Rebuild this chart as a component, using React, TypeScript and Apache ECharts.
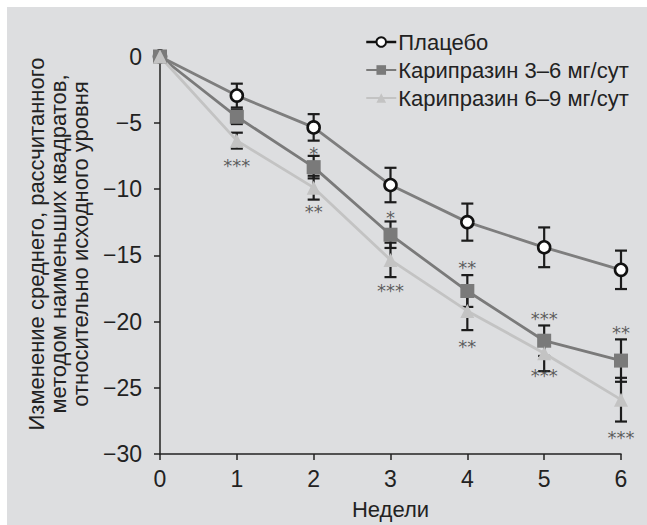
import React, { useEffect, useRef } from "react";
import * as echarts from "echarts";

const weeks = [0, 1, 2, 3, 4, 5, 6];
const xTicks = ["0", "1", "2", "3", "4", "5", "6"];
const seriesNames = ["Плацебо", "Карипразин 3–6 мг/сут", "Карипразин 6–9 мг/сут"];

const placebo = [0, -2.95, -5.35, -9.7, -12.5, -14.4, -16.1];
const placeboErr = [0, 0.9, 1.0, 1.3, 1.4, 1.5, 1.45];
const cari36 = [0, -4.55, -8.35, -13.45, -17.7, -21.45, -22.95];
const cari36Err = [0, 0.55, 0.85, 1.0, 1.2, 1.15, 1.6];
const cari69 = [0, -6.35, -9.9, -15.35, -19.2, -22.4, -25.9];
const cari69Err = [0, 0.6, 0.9, 1.3, 1.45, 1.35, 1.65];

// significance markers: week, position (value units), text
const starWeeks = [1, 2, 2, 3, 3, 4, 4, 5, 5, 6, 6];
const starValues = [-7.9, -7.0, -11.4, -11.85, -17.35, -15.65, -21.55, -19.5, -23.75, -20.55, -28.45];
const starTexts = ["***", "*", "**", "*", "***", "**", "**", "***", "***", "**", "***"];

const yAxisTitle = [
  "Изменение среднего, рассчитанного",
  "методом наименьших квадратов,",
  "относительно исходного уровня",
];
const xAxisTitle = "Недели";

const FONT = "'Liberation Sans', Arial, Helvetica, sans-serif";
const TEXT = "#222222";

function errorSeries(vals: number[], errs: number[], z: number) {
  return {
    type: "custom",
    z,
    silent: true,
    renderItem: (params: any, api: any) => {
      const x = api.value(0);
      const y = api.value(1);
      const e = api.value(2);
      if (!e) return null;
      const top = api.coord([x, y + e]);
      const bot = api.coord([x, y - e]);
      const w = 6;
      const st = { stroke: "#1c1c1c", lineWidth: 2.2 };
      return {
        type: "group",
        children: [
          { type: "line", shape: { x1: top[0], y1: top[1], x2: bot[0], y2: bot[1] }, style: st },
          { type: "line", shape: { x1: top[0] - w, y1: top[1], x2: top[0] + w, y2: top[1] }, style: st },
          { type: "line", shape: { x1: bot[0] - w, y1: bot[1], x2: bot[0] + w, y2: bot[1] }, style: st },
        ],
      };
    },
    data: weeks.map((w, i) => [w, vals[i], errs[i]]),
  };
}

export default function App() {
  const ref = useRef<HTMLDivElement>(null);
  useEffect(() => {
    document.body.style.margin = "0";
    const chart = echarts.init(ref.current!, null, { renderer: "svg" });
    const minus = (v: number) => (v < 0 ? "−" + Math.abs(v) : String(v));
    chart.setOption({
      animation: false,
      backgroundColor: "#ffffff",
      graphic: [
        {
          type: "rect",
          z: -10,
          silent: true,
          shape: { x: 7, y: 7, width: 640, height: 518 },
          style: { fill: "#dddee0" },
        },
        {
          type: "text",
          x: 58,
          y: 244,
          rotation: Math.PI / 2,
          style: {
            text: yAxisTitle.join("\n"),
            font: `22px ${FONT}`,
            fill: TEXT,
            align: "center",
            verticalAlign: "middle",
            lineHeight: 22,
          },
        },
      ],
      grid: { left: 160, right: 26, top: 56.5, bottom: 63 },
      legend: {
        left: 360,
        top: 26,
        orient: "vertical",
        itemWidth: 30,
        itemHeight: 12,
        itemGap: 6,
        textStyle: { fontFamily: FONT, fontSize: 22, color: TEXT, padding: [0, 0, 0, -3] },
        data: [
          { name: seriesNames[0], lineStyle: { color: "#111111", width: 2.5 } },
          { name: seriesNames[1] },
          { name: seriesNames[2] },
        ],
      },
      xAxis: {
        type: "value",
        min: 0,
        max: 6,
        interval: 1,
        name: xAxisTitle,
        nameLocation: "middle",
        nameGap: 44,
        nameTextStyle: { fontFamily: FONT, fontSize: 22, color: TEXT },
        axisLine: { onZero: false, lineStyle: { color: "#222", width: 1.5 } },
        axisTick: { length: 6, lineStyle: { color: "#222", width: 1.5 } },
        axisLabel: {
          margin: 13,
          fontFamily: FONT,
          fontSize: 23,
          color: TEXT,
          formatter: (v: number) => xTicks[weeks.indexOf(v)] ?? String(v),
        },
        splitLine: { show: false },
      },
      yAxis: {
        type: "value",
        min: -30,
        max: 0,
        interval: 5,
        axisLine: { show: true, onZero: false, lineStyle: { color: "#222", width: 1.5 } },
        axisTick: { show: true, length: 6, lineStyle: { color: "#222", width: 1.5 } },
        axisLabel: { margin: 18, fontFamily: FONT, fontSize: 23, color: TEXT, formatter: minus },
        splitLine: { show: false },
      },
      series: [
        errorSeries(placebo, placeboErr, 2),
        errorSeries(cari36, cari36Err, 2),
        errorSeries(cari69, cari69Err, 2),
        {
          name: seriesNames[0],
          type: "line",
          z: 3,
          data: weeks.map((w, i) => [w, placebo[i]]),
          lineStyle: { color: "#7e7e7e", width: 2.8 },
          symbol: "circle",
          symbolSize: 12,
          itemStyle: { color: "#ffffff", borderColor: "#111111", borderWidth: 2.6 },
        },
        {
          name: seriesNames[1],
          type: "line",
          z: 3,
          data: weeks.map((w, i) => [w, cari36[i]]),
          lineStyle: { color: "#7a7a7a", width: 2.8 },
          symbol: "rect",
          symbolSize: 14,
          itemStyle: { color: "#7a7a7a" },
        },
        {
          name: seriesNames[2],
          type: "line",
          z: 3,
          data: weeks.map((w, i) => [w, cari69[i]]),
          lineStyle: { color: "#c3c3c3", width: 2.8 },
          symbol: "triangle",
          symbolSize: 14,
          itemStyle: { color: "#c3c3c3" },
        },
        {
          type: "scatter",
          z: 4,
          silent: true,
          symbol: "circle",
          symbolSize: 1,
          itemStyle: { color: "rgba(0,0,0,0)" },
          label: {
            show: true,
            position: "inside",
            offset: [0, 4],
            formatter: (p: any) => p.name,
            fontFamily: "'DejaVu Sans', sans-serif",
            fontSize: 18,
            color: "#3a3a3a",
          },
          data: starWeeks.map((w, i) => ({ name: starTexts[i], value: [w, starValues[i]] })),
        },
      ],
    });
    return () => chart.dispose();
  }, []);
  return (
    <div
      ref={ref}
      style={{ position: "absolute", left: 0, top: 0, width: 647, height: 525 }}
    />
  );
}
